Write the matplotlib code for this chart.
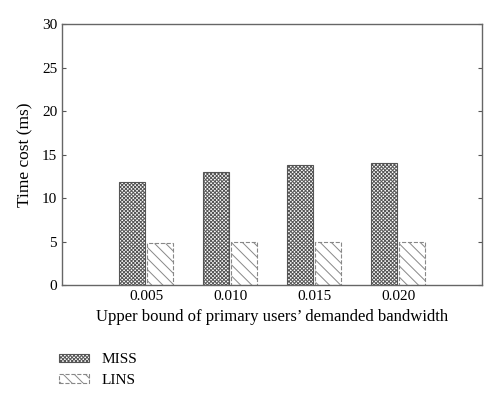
import numpy as np
import matplotlib.pyplot as plt
from matplotlib.patches import Patch

plt.rcParams['font.family'] = ['Liberation Serif', 'DejaVu Serif']
plt.rcParams['hatch.linewidth'] = 0.7

categories = ['0.005', '0.010', '0.015', '0.020']
miss = [11.8, 13.0, 13.8, 14.0]
lins = [4.8, 5.0, 5.0, 5.0]

fig = plt.figure(figsize=(5, 3.95), dpi=100)
ax = fig.add_axes([0.124, 0.278, 0.84, 0.661])

x = np.arange(1, len(categories) + 1)
w = 0.31

plt.rcParams['hatch.color'] = '#666666'
ax.bar(x - w / 2 - 0.01, miss, w, color='white', edgecolor='#555555',
       hatch='xxxxxxxxx', linewidth=0.8)
ax.bar(x + w / 2 + 0.01, lins, w, color='white', edgecolor='#888888',
       hatch='\\\\\\', linewidth=0.8, linestyle='--')

ax.set_xlim(0, 5)
ax.set_ylim(0, 30)
ax.set_xticks(x)
ax.set_xticklabels(categories)
ax.set_yticks([0, 5, 10, 15, 20, 25, 30])
ax.tick_params(direction='in', length=3, top=True, right=True, labelsize=11,
               color='#555555', width=0.8)
ax.tick_params(axis='x', length=0)
for s in ax.spines.values():
    s.set_color('#666666')
    s.set_linewidth(1.0)
ax.set_xlabel('Upper bound of primary users\u2019 demanded bandwidth', fontsize=12, labelpad=4)
ax.set_ylabel('Time cost (ms)', fontsize=12.5, labelpad=6)

handles = [Patch(facecolor='white', edgecolor='#555555', hatch='xxxxxxxxx', linewidth=0.8),
           Patch(facecolor='white', edgecolor='#888888', hatch='\\\\\\', linewidth=0.8,
                 linestyle='--')]
fig.legend(handles, ['MISS', 'LINS'], loc='upper left', bbox_to_anchor=(0.09, 0.14),
           frameon=False, fontsize=11, handlelength=2.0, handleheight=0.5,
           labelspacing=0.5)

fig.savefig('out.png', dpi=100)
